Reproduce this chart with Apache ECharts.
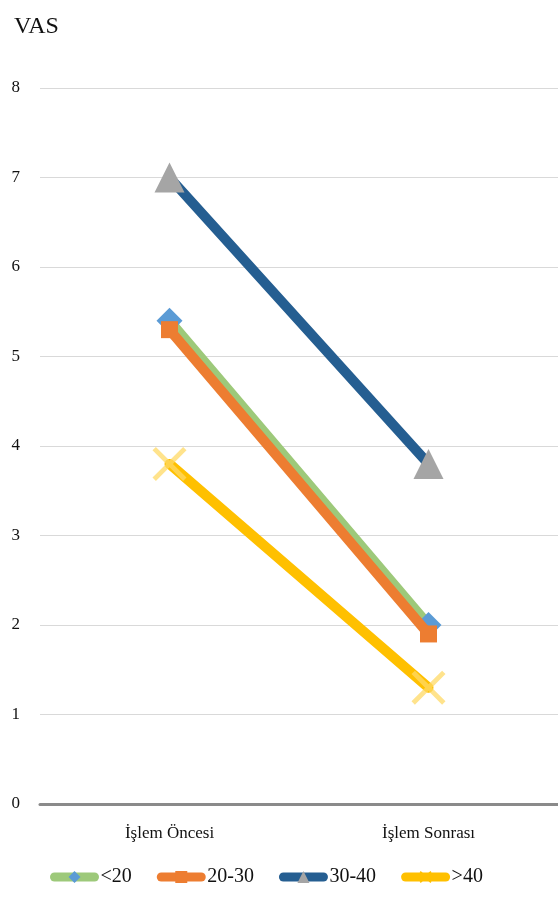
<!DOCTYPE html>
<html>
<head>
<meta charset="utf-8">
<script src="https://cdn.jsdelivr.net/npm/echarts@6/dist/echarts.min.js"></script>
<style>
  html, body { margin: 0; padding: 0; background: #ffffff; }
  #chart { width: 558px; height: 903px; }
</style>
</head>
<body>
<div id="chart"></div>
<script>
// VAS scores before and after the procedure, by age group
const categories = ['İşlem Öncesi', 'İşlem Sonrası'];
const groupNames = ['<20', '20-30', '30-40', '>40'];
const under20 = [5.4, 2.0];
const age20to30 = [5.3, 1.9];
const age30to40 = [7.0, 3.8];
const over40 = [3.8, 1.3];
const yTicks = [0, 1, 2, 3, 4, 5, 6, 7, 8];

const serif = 'Liberation Serif';
const crossPath = 'path://M0,1L1,0L5,4L9,0L10,1L6,5L10,9L9,10L5,6L1,10L0,9L4,5Z';

function lineSeries(name, data, lineColor, symbol, symbolSize, markColor, z) {
  return {
    name: name,
    type: 'line',
    data: data,
    z: z,
    symbol: symbol,
    symbolSize: symbolSize,
    showAllSymbol: true,
    lineStyle: { color: lineColor, width: 10, cap: 'round' },
    itemStyle: { color: markColor, borderWidth: 0 },
    emphasis: { disabled: true },
    animation: false
  };
}

// legend entries: thick rounded line with the series marker in the middle
function legendEntry(name, lineColor, markColor) {
  return {
    name: name,
    itemStyle: { color: markColor },
    lineStyle: { color: lineColor, width: 9, cap: 'round' }
  };
}

const chart = echarts.init(document.getElementById('chart'), null, { renderer: 'canvas' });
chart.setOption({
  backgroundColor: '#ffffff',
  title: {
    text: 'VAS',
    left: 9,
    top: 10,
    textStyle: { fontFamily: serif, fontSize: 24, fontWeight: 'normal', color: '#111' }
  },
  grid: { left: 40, top: 88, width: 520, height: 716 },
  xAxis: {
    type: 'category',
    data: categories,
    boundaryGap: true,
    axisTick: { show: false },
    axisLine: { lineStyle: { color: '#8a8a8a', width: 3 } },
    axisLabel: { fontFamily: serif, fontSize: 17, color: '#111', margin: 21 }
  },
  yAxis: {
    type: 'value',
    min: yTicks[0],
    max: yTicks[yTicks.length - 1],
    interval: 1,
    axisLine: { show: false },
    axisTick: { show: false },
    splitLine: { lineStyle: { color: '#d9d9d9', width: 1 } },
    axisLabel: { fontFamily: serif, fontSize: 17, color: '#111', margin: 20 }
  },
  legend: {
    bottom: 11,
    left: 45,
    padding: [5, 0, 5, 5],
    itemWidth: 40,
    itemHeight: 15,
    itemGap: 25,
    lineStyle: { width: 9, cap: 'round' },
    textStyle: { fontFamily: serif, fontSize: 20, color: '#111', padding: [0, 0, 0, 1] },
    data: [
      legendEntry(groupNames[0], '#9dc97a', '#5b9bd5'),
      legendEntry(groupNames[1], '#ed7d31', '#ed7d31'),
      legendEntry(groupNames[2], '#255e91', '#a5a5a5'),
      legendEntry(groupNames[3], '#ffc000', '#ffc000')
    ]
  },
  series: [
    lineSeries(groupNames[0], under20, '#9dc97a', 'diamond', 26, '#5b9bd5', 2),
    lineSeries(groupNames[1], age20to30, '#ed7d31', 'rect', 17, '#ed7d31', 3),
    lineSeries(groupNames[2], age30to40, '#255e91', 'triangle', 30, '#a5a5a5', 4),
    lineSeries(groupNames[3], over40, '#ffc000', crossPath, 34, 'rgba(255,217,102,0.75)', 5)
  ]
});
</script>
</body>
</html>
